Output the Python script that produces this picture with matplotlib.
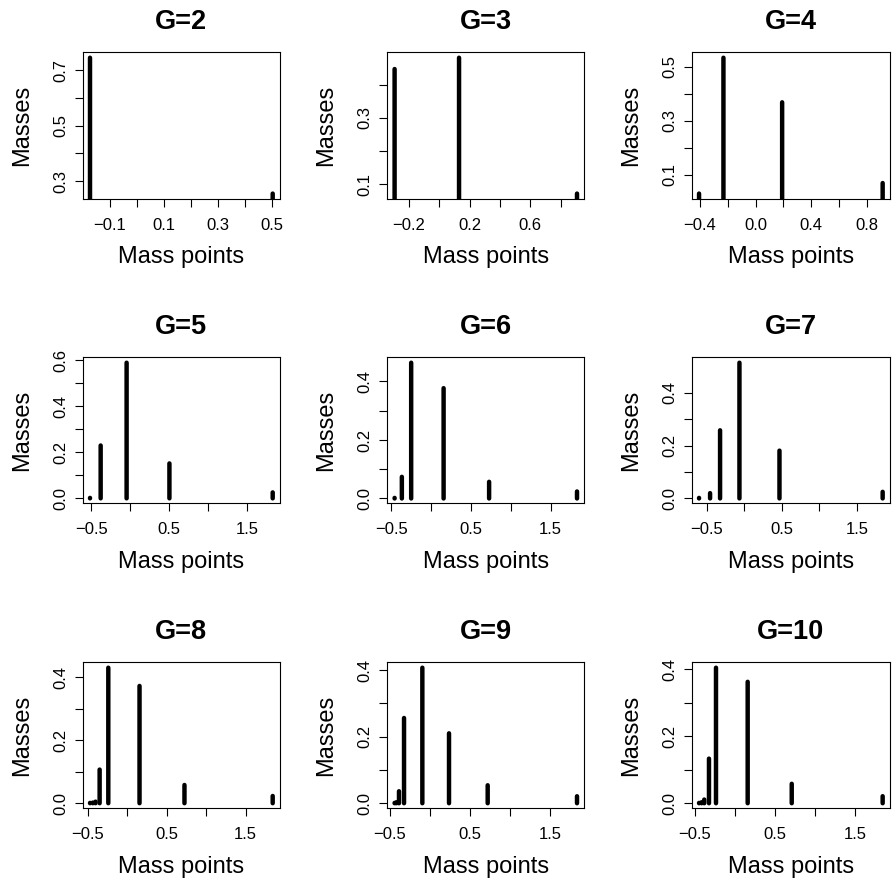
import matplotlib
matplotlib.use("Agg")
import matplotlib.pyplot as plt
import numpy as np

plt.rcParams['font.family'] = ['Liberation Sans', 'DejaVu Sans']

titles = ["G=2", "G=3", "G=4", "G=5", "G=6", "G=7", "G=8", "G=9", "G=10"]

x2 = [-0.173, 0.504]
y2 = [0.745, 0.255]
x3 = [-0.293, 0.131, 0.907]
y3 = [0.447, 0.481, 0.072]
x4 = [-0.405, -0.230, 0.191, 0.912]
y4 = [0.030, 0.533, 0.368, 0.069]
x5 = [-0.518, -0.381, -0.047, 0.504, 1.833]
y5 = [0.002, 0.230, 0.590, 0.152, 0.026]
x6 = [-0.457, -0.366, -0.249, 0.158, 0.729, 1.832]
y6 = [0.002, 0.074, 0.464, 0.377, 0.057, 0.024]
x7 = [-0.603, -0.456, -0.323, -0.065, 0.468, 1.842]
y7 = [0.002, 0.020, 0.258, 0.514, 0.181, 0.025]
x8 = [-0.475, -0.440, -0.405, -0.353, -0.243, 0.153, 0.723, 1.842]
y8 = [0.001, 0.002, 0.005, 0.107, 0.431, 0.373, 0.058, 0.023]
x9 = [-0.443, -0.420, -0.388, -0.325, -0.096, 0.2375, 0.721, 1.838]
y9 = [0.001, 0.003, 0.036, 0.256, 0.407, 0.210, 0.054, 0.021]
x10 = [-0.449, -0.417, -0.384, -0.325, -0.2375, 0.158, 0.708, 1.843]
y10 = [0.001, 0.003, 0.011, 0.133, 0.404, 0.362, 0.058, 0.021]

xs = [x2, x3, x4, x5, x6, x7, x8, x9, x10]
ys = [y2, y3, y4, y5, y6, y7, y8, y9, y10]

# tick marks (all) and labelled ticks
xticks = [
    [-0.1, 0.0, 0.1, 0.2, 0.3, 0.4, 0.5],
    [-0.2, 0.0, 0.2, 0.4, 0.6, 0.8],
    [-0.4, -0.2, 0.0, 0.2, 0.4, 0.6, 0.8],
] + [[-0.5, 0.0, 0.5, 1.0, 1.5]] * 6
xlabeled = [
    [-0.1, 0.1, 0.3, 0.5],
    [-0.2, 0.2, 0.6],
    [-0.4, 0.0, 0.4, 0.8],
] + [[-0.5, 0.5, 1.5]] * 6
yticks = [
    [0.3, 0.4, 0.5, 0.6, 0.7],
    [0.1, 0.2, 0.3, 0.4],
    [0.1, 0.2, 0.3, 0.4, 0.5],
    [0.0, 0.1, 0.2, 0.3, 0.4, 0.5, 0.6],
] + [[0.0, 0.1, 0.2, 0.3, 0.4]] * 5
ylabeled = [
    [0.3, 0.5, 0.7],
    [0.1, 0.3],
    [0.1, 0.3, 0.5],
    [0.0, 0.2, 0.4, 0.6],
] + [[0.0, 0.2, 0.4]] * 5


def fmt(v):
    s = "%.1f" % v
    if s == "-0.0":
        s = "0.0"
    return s.replace("-", "\u2212")


W, H = 892, 882
fig = plt.figure(figsize=(W / 100, H / 100), dpi=100)

col_left = [82.7, 387.3, 691.7]
col_w = [197.3, 197.0, 198.3]
row_top = [52.3, 357.3, 662.3]
row_h = [146.7, 146.0, 146.0]

for i in range(9):
    r, c = divmod(i, 3)
    ax = fig.add_axes([col_left[c] / W, 1 - (row_top[r] + row_h[r]) / H,
                       col_w[c] / W, row_h[r] / H])
    x = np.array(xs[i])
    y = np.array(ys[i])
    lc = ax.vlines(x, 0, y, colors='black', linewidth=3.2)
    lc.set_capstyle('round')
    lc.set_snap(False)
    xr = x.max() - x.min()
    yr = y.max() - y.min()
    ax.set_xlim(x.min() - 0.04 * xr, x.max() + 0.04 * xr)
    ax.set_ylim(y.min() - 0.04 * yr, y.max() + 0.04 * yr)

    ax.set_xticks(xticks[i])
    ax.set_xticklabels([fmt(t) if any(abs(t - l) < 1e-9 for l in xlabeled[i]) else ""
                        for t in xticks[i]])
    ax.set_yticks(yticks[i])
    ax.set_yticklabels([fmt(t) if any(abs(t - l) < 1e-9 for l in ylabeled[i]) else ""
                        for t in yticks[i]], rotation=90, va='center')
    ax.tick_params(axis='both', direction='out', length=5.5, width=0.8,
                   labelsize=12, color='black')
    ax.tick_params(axis='x', pad=8.0)
    ax.tick_params(axis='y', pad=5)
    for sp in ax.spines.values():
        sp.set_linewidth(0.8)
        sp.set_color('black')

    ax.set_title(titles[i], fontsize=19.5, fontweight='bold', pad=17)
    ax.set_xlabel("Mass points", fontsize=17)
    ax.xaxis.label.set_va('baseline')
    ax.xaxis.set_label_coords(0.5, -64.3 / row_h[r])
    ax.set_ylabel("Masses", fontsize=17)
    ax.yaxis.label.set_va('baseline')
    ax.yaxis.set_label_coords(-55.0 / col_w[c], 0.5)

fig.savefig("out.png", dpi=100)
